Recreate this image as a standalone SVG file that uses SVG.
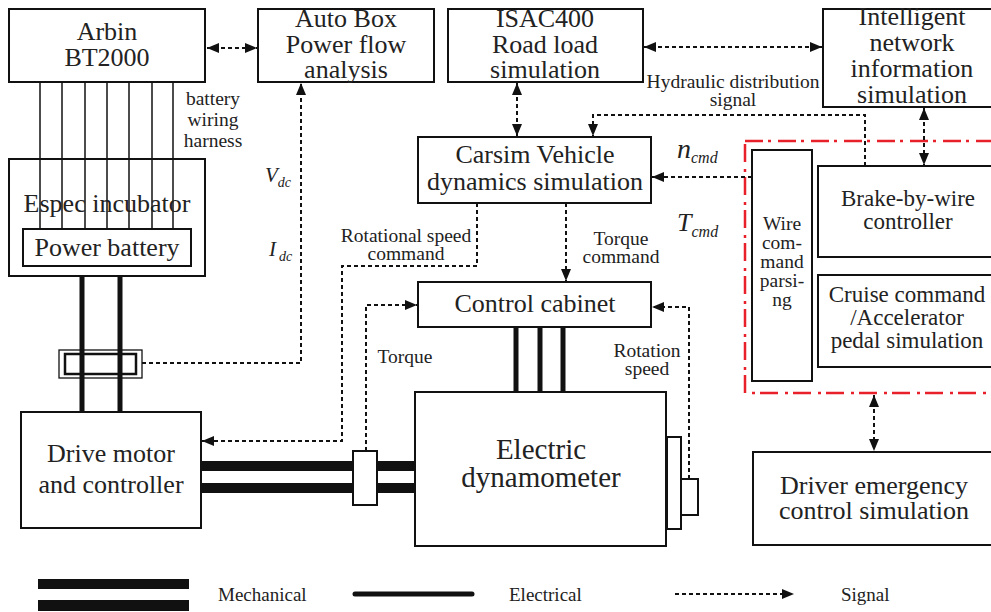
<svg xmlns="http://www.w3.org/2000/svg" width="991" height="612" viewBox="0 0 991 612" font-family="'Liberation Serif', 'Times New Roman', serif">
<style>
.box{fill:#fff;stroke:#111;stroke-width:2}
.t{font-family:'Liberation Serif','Times New Roman',serif;fill:#222;text-anchor:middle}
.big{font-size:26px}
.md{font-size:23px}
.xl{font-size:29px}
.sm{font-size:19.5px}
.lg{font-size:19px;text-anchor:start}
.it{font-style:italic;text-anchor:start}
.sig{fill:none;stroke:#111;stroke-width:2;stroke-dasharray:4 3}
.ele{stroke:#111;stroke-width:5}
.wire{stroke:#111;stroke-width:1.5}
.red{fill:none;stroke:#e8202a;stroke-width:2.5;stroke-dasharray:18 5 3 7}
</style>
<defs>
<marker id="ah" markerUnits="userSpaceOnUse" markerWidth="12" markerHeight="10" refX="12" refY="5" orient="auto-start-reverse">
<path d="M0,0 L12,5 L0,10 z" fill="#111"/>
</marker>
</defs>
<rect width="991" height="612" fill="#fff"/>

<g id="wires">
<line class="wire" x1="40" y1="82" x2="40" y2="229"/>
<line class="wire" x1="62" y1="82" x2="62" y2="229"/>
<line class="wire" x1="85" y1="82" x2="85" y2="229"/>
<line class="wire" x1="107" y1="82" x2="107" y2="229"/>
<line class="wire" x1="129" y1="82" x2="129" y2="229"/>
<line class="wire" x1="152" y1="82" x2="152" y2="229"/>
<line class="wire" x1="173" y1="82" x2="173" y2="229"/>
</g>

<g id="espec">
<rect x="9" y="159" width="196" height="117" fill="none" stroke="#111" stroke-width="2"/>
<text class="t big" x="107" y="212">Espec incubator</text>
</g>
<g id="arbin">
<rect class="box" x="9" y="9" width="196" height="73"/>
<text class="t big" x="107" y="40">Arbin</text>
<text class="t big" x="107" y="66">BT2000</text>
</g>
<g id="power-battery">
<rect class="box" x="23" y="229" width="168" height="37"/>
<text class="t big" x="107" y="256">Power battery</text>
</g>

<g id="electrical">
<line class="ele" x1="82" y1="276" x2="82" y2="412"/>
<line class="ele" x1="120" y1="276" x2="120" y2="412"/>
<line class="ele" x1="516" y1="327" x2="516" y2="392"/>
<line class="ele" x1="540" y1="327" x2="540" y2="392"/>
<line class="ele" x1="563" y1="327" x2="563" y2="392"/>
</g>
<g id="sensor">
<rect x="59" y="350" width="83" height="28" fill="none" stroke="#111" stroke-width="1.3"/>
<rect x="65" y="354" width="71" height="20" fill="none" stroke="#111" stroke-width="2.5"/>
</g>

<g id="mechanical">
<rect x="201" y="461" width="214" height="10" fill="#111"/>
<rect x="201" y="483" width="214" height="10" fill="#111"/>
</g>

<g id="autobox">
<rect class="box" x="258" y="9" width="176" height="73"/>
<text class="t big" x="346" y="27">Auto Box</text>
<text class="t big" x="346" y="53">Power flow</text>
<text class="t big" x="346" y="78">analysis</text>
</g>
<g id="isac">
<rect class="box" x="448" y="9" width="195" height="73"/>
<text class="t big" x="545" y="27">ISAC400</text>
<text class="t big" x="545" y="53">Road load</text>
<text class="t big" x="545" y="78">simulation</text>
</g>
<g id="intelligent">
<rect class="box" x="823" y="9" width="190" height="98"/>
<text class="t big" x="912" y="25">Intelligent</text>
<text class="t big" x="912" y="51">network</text>
<text class="t big" x="912" y="77">information</text>
<text class="t big" x="912" y="103">simulation</text>
</g>
<g id="carsim">
<rect class="box" x="418" y="137" width="233" height="66"/>
<text class="t big" x="535" y="163">Carsim Vehicle</text>
<text class="t big" x="535" y="190">dynamics simulation</text>
</g>
<g id="control-cabinet">
<rect class="box" x="418" y="282" width="233" height="45"/>
<text class="t big" x="535" y="312">Control cabinet</text>
</g>
<g id="drive-motor">
<rect class="box" x="21" y="412" width="180" height="116"/>
<text class="t big" x="111" y="462">Drive motor</text>
<text class="t big" x="111" y="493">and controller</text>
</g>
<g id="coupler">
<rect class="box" x="353" y="451" width="24" height="54"/>
</g>
<g id="dynamometer">
<rect class="box" x="415" y="392" width="251" height="154"/>
<text class="t xl" x="541" y="459">Electric</text>
<text class="t xl" x="541" y="487">dynamometer</text>
<rect class="box" x="667" y="437" width="14" height="92"/>
<rect class="box" x="681" y="479" width="17" height="36"/>
</g>
<g id="red-zone">
<rect class="red" x="745" y="141" width="270" height="252"/>
</g>
<g id="wire-command">
<rect class="box" x="752" y="150" width="60" height="231"/>
<text class="t sm" x="782" y="230">Wire</text>
<text class="t sm" x="782" y="249">com-</text>
<text class="t sm" x="782" y="268">mand</text>
<text class="t sm" x="782" y="287">parsi-</text>
<text class="t sm" x="782" y="306">ng</text>
</g>
<g id="brake">
<rect class="box" x="818" y="166" width="190" height="91"/>
<text class="t md" x="908" y="206">Brake-by-wire</text>
<text class="t md" x="908" y="229">controller</text>
</g>
<g id="cruise">
<rect class="box" x="818" y="275" width="190" height="92"/>
<text class="t md" x="907" y="302">Cruise command</text>
<text class="t md" x="907" y="325">/Accelerator</text>
<text class="t md" x="907" y="348">pedal simulation</text>
</g>
<g id="driver">
<rect class="box" x="753" y="452" width="260" height="93"/>
<text class="t big" x="874" y="494">Driver emergency</text>
<text class="t big" x="874" y="519">control simulation</text>
</g>

<g id="connectors">
<line class="sig" x1="207" y1="48" x2="257" y2="48" marker-start="url(#ah)" marker-end="url(#ah)"/>
<path class="sig" d="M142,363 H301 V83" marker-end="url(#ah)"/>
<line class="sig" x1="644" y1="47" x2="822" y2="47" marker-start="url(#ah)" marker-end="url(#ah)"/>
<line class="sig" x1="517" y1="83" x2="517" y2="136" marker-start="url(#ah)" marker-end="url(#ah)"/>
<line class="sig" x1="924" y1="108" x2="924" y2="165" marker-start="url(#ah)" marker-end="url(#ah)"/>
<path class="sig" d="M865,166 V115 H593 V136" marker-end="url(#ah)"/>
<path class="sig" d="M752,177 H652" marker-end="url(#ah)"/>
<path class="sig" d="M477,203 V266 H342 V441 H202" marker-end="url(#ah)"/>
<path class="sig" d="M566,203 V281" marker-end="url(#ah)"/>
<path class="sig" d="M366,451 V305 H417" marker-end="url(#ah)"/>
<path class="sig" d="M689,479 V307 H652" marker-end="url(#ah)"/>
<line class="sig" x1="874" y1="395" x2="874" y2="451" marker-start="url(#ah)" marker-end="url(#ah)"/>
</g>

<g id="labels">
<text class="t sm" x="213" y="105">battery</text>
<text class="t sm" x="213" y="126">wiring</text>
<text class="t sm" x="213" y="147">harness</text>
<text class="t it" x="265" y="182" style="font-size:21px">V<tspan style="font-size:14px" dy="5">dc</tspan></text>
<text class="t it" x="269" y="256" style="font-size:21px">I<tspan style="font-size:14px" dx="3" dy="5">dc</tspan></text>
<text class="t sm" x="733" y="88">Hydraulic distribution</text>
<text class="t sm" x="733" y="106">signal</text>
<text class="t it" x="677" y="158" style="font-size:28px">n<tspan style="font-size:16px" dy="5">cmd</tspan></text>
<text class="t it" x="677" y="231" style="font-size:26px">T<tspan style="font-size:16px" dy="6">cmd</tspan></text>
<text class="t sm" x="406" y="242">Rotational speed</text>
<text class="t sm" x="406" y="260">command</text>
<text class="t sm" x="621" y="245">Torque</text>
<text class="t sm" x="621" y="263">command</text>
<text class="t sm" x="405" y="363">Torque</text>
<text class="t sm" x="647" y="357">Rotation</text>
<text class="t sm" x="647" y="375">speed</text>
</g>

<g id="legend">
<rect x="38" y="579" width="151" height="10" fill="#111"/>
<rect x="38" y="600" width="151" height="11" fill="#111"/>
<text class="t lg" x="218" y="601">Mechanical</text>
<line x1="355" y1="594" x2="472" y2="594" stroke="#111" stroke-width="5" stroke-linecap="round"/>
<text class="t lg" x="509" y="601">Electrical</text>
<line class="sig" x1="675" y1="594" x2="794" y2="594" marker-end="url(#ah)"/>
<text class="t lg" x="841" y="601">Signal</text>
</g>
</svg>
